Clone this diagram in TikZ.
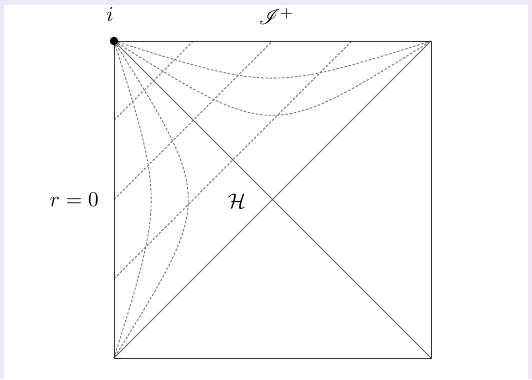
\documentclass[tikz,border=0pt]{standalone}
\usepackage{amsmath, amssymb, mathrsfs}
\usepackage{tikz}
\usetikzlibrary{positioning}

\definecolor{framebg}{RGB}{239,231,245}

\begin{document}
\begin{tikzpicture}[
    x=0.66cm, y=0.66cm,
    edge/.style={draw=black!80, line width=0.45pt},
    horizon/.style={draw=black!60, line width=0.45pt},
    slice/.style={draw=black!55, line width=0.4pt, dash pattern=on 1.2pt off 0.8pt},
    tag/.style={inner sep=0pt}
]
    % frame of the screenshot
    \fill[framebg] (-2.877,-0.530) rectangle (10.549,9.035);
    \fill[white] (-2.777,-0.530) rectangle (10.449,8.909);
    \useasboundingbox (-2.877,-0.530) rectangle (10.549,9.035);

    \coordinate (bl) at (0,0);
    \coordinate (br) at (8,0);
    \coordinate (tr) at (8,8);
    \coordinate (tl) at (0,8);
    \coordinate (l1) at (0,6);
    \coordinate (l2) at (0,4);
    \coordinate (l3) at (0,2);
    \coordinate (t1) at (2,8);
    \coordinate (t2) at (4,8);
    \coordinate (t3) at (6,8);

    % null slices
    \draw[slice] (l1) -- (t1);
    \draw[slice] (l2) -- (t2);
    \draw[slice] (l3) -- (t3);

    % curves out of i
    \draw[slice] (tl) .. controls (4,6.75) .. (tr);
    \draw[slice] (tl) .. controls (4,5.5) .. (tr);
    \draw[slice] (tl) .. controls (1.25,4) .. (bl);
    \draw[slice] (tl) .. controls (2.5,4) .. (bl);

    \draw[horizon] (tl) -- (br);
    \draw[horizon] (bl) -- (tr);
    \draw[edge] (bl) rectangle (tr);

    \node[circle, fill, inner sep=0pt, minimum size=4pt] (idot) at (tl) {};
    \node[tag] (ilab) at (-0.1,8.66) {$i$};
    \node[tag] (scri) at (4.1,8.62) {$\mathscr{I}^+$};
    \node[tag] (rzero) at (-1.0,4.0) {$r=0$};
    \node[tag] (hor) at (3.1,3.95) {$\mathcal{H}$};
\end{tikzpicture}
\end{document}
